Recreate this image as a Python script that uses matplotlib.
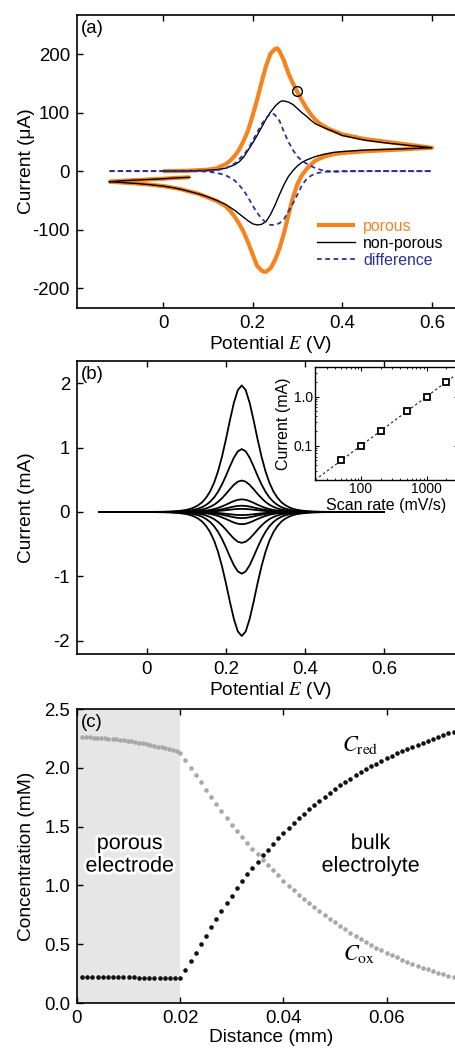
import matplotlib
matplotlib.use("Agg")
import matplotlib.pyplot as plt
from matplotlib import patheffects as pe
from matplotlib.ticker import LogLocator, NullFormatter

plt.rcParams['font.family'] = ['Liberation Sans', 'DejaVu Sans']
plt.rcParams['mathtext.fontset'] = 'stix'
plt.rcParams['axes.unicode_minus'] = False

# ---------------- Panel (a) data: cyclic voltammograms (uA vs V) ----------------
np_fwd_E = [0.00, 0.05, 0.10, 0.12, 0.14, 0.16, 0.17, 0.18, 0.19, 0.20, 0.21, 0.22, 0.23, 0.24, 0.25, 0.26,
            0.265, 0.27, 0.28, 0.29, 0.30, 0.31, 0.32, 0.33, 0.34, 0.36, 0.38, 0.40, 0.45, 0.50, 0.55, 0.60]
np_fwd_I = [0, 0.3, 1.5, 2.5, 5, 11, 16, 24, 36, 48, 61, 75, 89, 101, 111, 118,
            120, 120, 118, 114, 107, 100, 94, 87, 81, 74, 68, 61, 53, 48, 44, 40]
np_rev_E = [0.60, 0.53, 0.45, 0.40, 0.38, 0.36, 0.34, 0.32, 0.31, 0.30, 0.29, 0.28, 0.27, 0.26, 0.25, 0.24,
            0.23, 0.22, 0.21, 0.20, 0.19, 0.18, 0.17, 0.16, 0.15, 0.14, 0.12, 0.10, 0.08, 0.06, 0.04, 0.02,
            0.00, -0.03, -0.06, -0.09, -0.12]
np_rev_I = [40, 38, 36, 33.5, 32, 29, 25, 19, 15, 9, 1, -9, -23, -40, -58, -74,
            -86, -91, -92, -90, -85, -79, -73, -67, -62, -57, -50, -44, -39, -35, -31, -28,
            -25.5, -23, -21, -19.5, -18]
np_end_E = [-0.12, -0.08, -0.04, 0.00, 0.03, 0.06]
np_end_I = [-18, -16, -14.5, -13, -11.5, -10.5]

p_fwd_E = [0.00, 0.05, 0.10, 0.12, 0.14, 0.15, 0.16, 0.17, 0.18, 0.19, 0.20, 0.21, 0.22, 0.23, 0.24, 0.25,
           0.255, 0.26, 0.27, 0.28, 0.29, 0.30, 0.31, 0.32, 0.33, 0.34, 0.35, 0.37, 0.40, 0.45, 0.50, 0.55, 0.60]
p_fwd_I = [0, 0.5, 2.5, 5, 12, 18, 26, 37, 52, 70, 95, 122, 152, 180, 201, 209,
           210, 205, 189, 167, 150, 135, 121, 108, 97, 88, 81, 72, 63, 55, 50, 45, 40]
p_rev_E = [0.60, 0.53, 0.45, 0.40, 0.38, 0.36, 0.34, 0.33, 0.32, 0.31, 0.30, 0.29, 0.28, 0.27, 0.26, 0.25,
           0.24, 0.23, 0.225, 0.22, 0.21, 0.20, 0.19, 0.18, 0.17, 0.16, 0.15, 0.14, 0.12, 0.10, 0.08, 0.06,
           0.04, 0.02, 0.00, -0.03, -0.06, -0.09, -0.12]
p_rev_I = [40, 37, 34, 31, 29, 25, 18, 11, 3, -7, -22, -45, -75, -106, -132, -152,
           -166, -172, -172, -170, -162, -142, -122, -104, -90, -78, -68, -60, -51, -45, -39, -35,
           -31, -28, -25.5, -23, -21, -19.5, -18]
p_end_E = [-0.12, -0.08, -0.04, 0.00, 0.03, 0.06]
p_end_I = [-18, -16, -14.5, -13, -11.5, -10.5]

d_fwd_E = [-0.12, 0.08, 0.10, 0.12, 0.14, 0.16, 0.18, 0.19, 0.20, 0.21, 0.22, 0.23, 0.24, 0.245,
           0.25, 0.26, 0.27, 0.28, 0.29, 0.30, 0.31, 0.32, 0.34, 0.36, 0.38, 0.40, 0.45, 0.60]
d_fwd_I = [0, 0, 0.5, 1.5, 5, 13, 28, 38, 52, 66, 80, 91, 98, 98.5,
           96, 86, 67, 50, 36, 25, 18, 13, 5, 0.5, -1, -0.5, 0, 0]
d_rev_E = [0.60, 0.40, 0.36, 0.34, 0.33, 0.32, 0.31, 0.30, 0.29, 0.28, 0.27, 0.26, 0.25, 0.24,
           0.23, 0.22, 0.21, 0.20, 0.19, 0.18, 0.17, 0.16, 0.14, 0.12, 0.10, 0.08, -0.12]
d_rev_I = [0, 0, -1, -4, -8, -14, -24, -40, -55, -69, -82, -89, -92, -92,
           -88, -81, -71, -59, -45, -33, -24, -16, -7, -3, -1, 0, 0]

marker_E = [0.30]
marker_I = [137]

legend_labels = ['porous', 'non-porous', 'difference']

# ---------------- Panel (b) data: thin-layer CVs at several scan rates ----------------
E_b = [-0.12, 0.00, 0.04, 0.06, 0.08, 0.10, 0.11, 0.12, 0.13, 0.14, 0.15, 0.16, 0.17, 0.18, 0.19, 0.20,
       0.21, 0.22, 0.23, 0.24, 0.25, 0.26, 0.27, 0.28, 0.29, 0.30, 0.31, 0.32, 0.33, 0.34, 0.35, 0.36,
       0.37, 0.38, 0.40, 0.42, 0.44, 0.48, 0.60]
shape_b = [0, 0.0004, 0.0017, 0.0036, 0.0079, 0.017, 0.025, 0.037, 0.054, 0.078, 0.114, 0.163, 0.231,
           0.322, 0.438, 0.575, 0.724, 0.862, 0.963, 1.0, 0.963, 0.862, 0.724, 0.575, 0.438, 0.322,
           0.231, 0.163, 0.114, 0.078, 0.054, 0.037, 0.025, 0.017, 0.0079, 0.0036, 0.0017, 0.0004, 0]
peak_ox_mA = [1.97, 0.98, 0.49, 0.197, 0.098, 0.049]
peak_red_mA = [1.93, 0.96, 0.48, 0.19, 0.095, 0.048]

# inset
scan_rate = [50, 100, 200, 500, 1000, 2000]
peak_current = [0.05, 0.1, 0.2, 0.5, 1.0, 2.0]
fit_rate = [20, 3000]
fit_current = [0.02, 3.0]

# ---------------- Panel (c) data: concentration profiles ----------------
x_red = [0.001, 0.002, 0.003, 0.004, 0.005, 0.006, 0.007, 0.008, 0.009, 0.010,
         0.011, 0.012, 0.013, 0.014, 0.015, 0.016, 0.017, 0.018, 0.019, 0.020,
         0.021, 0.022, 0.023, 0.024, 0.025, 0.026, 0.027, 0.028, 0.029, 0.030,
         0.031, 0.032, 0.033, 0.034, 0.035, 0.036, 0.037, 0.038, 0.039, 0.040,
         0.041, 0.042, 0.043, 0.044, 0.045, 0.046, 0.047, 0.048, 0.049, 0.050,
         0.051, 0.052, 0.053, 0.054, 0.055, 0.056, 0.057, 0.058, 0.059, 0.060,
         0.061, 0.062, 0.063, 0.064, 0.065, 0.066, 0.067, 0.068, 0.069, 0.070,
         0.071, 0.072, 0.073]
c_red = [0.221, 0.221, 0.221, 0.220, 0.220, 0.220, 0.219, 0.219, 0.218, 0.218,
         0.217, 0.216, 0.216, 0.215, 0.214, 0.213, 0.212, 0.211, 0.210, 0.209,
         0.283, 0.355, 0.428, 0.500, 0.572, 0.643, 0.714, 0.783, 0.850, 0.914,
         0.976, 1.035, 1.093, 1.149, 1.203, 1.255, 1.305, 1.354, 1.401, 1.446,
         1.490, 1.532, 1.572, 1.611, 1.649, 1.686, 1.721, 1.755, 1.788, 1.820,
         1.850, 1.880, 1.908, 1.935, 1.962, 1.987, 2.012, 2.036, 2.059, 2.081,
         2.102, 2.123, 2.143, 2.162, 2.180, 2.198, 2.215, 2.232, 2.248, 2.263,
         2.278, 2.292, 2.306]
x_ox = [0.0010, 0.0017, 0.0025, 0.0032, 0.0039, 0.0047, 0.0054, 0.0061, 0.0069, 0.0076,
        0.0083, 0.0091, 0.0098, 0.0105, 0.0113, 0.0120, 0.0127, 0.0135, 0.0142, 0.0149,
        0.0157, 0.0164, 0.0171, 0.0179, 0.0186, 0.0193, 0.0200,
        0.021, 0.022, 0.023, 0.024, 0.025, 0.026, 0.027, 0.028, 0.029, 0.030,
        0.031, 0.032, 0.033, 0.034, 0.035, 0.036, 0.037, 0.038, 0.039, 0.040,
        0.041, 0.042, 0.043, 0.044, 0.045, 0.046, 0.047, 0.048, 0.049, 0.050,
        0.051, 0.052, 0.053, 0.054, 0.055, 0.056, 0.057, 0.058, 0.059, 0.060,
        0.061, 0.062, 0.063, 0.064, 0.065, 0.066, 0.067, 0.068, 0.069, 0.070,
        0.071, 0.072, 0.073]
c_ox = [2.260, 2.259, 2.258, 2.257, 2.255, 2.253, 2.250, 2.248, 2.245, 2.241,
        2.238, 2.233, 2.229, 2.224, 2.219, 2.213, 2.208, 2.201, 2.194, 2.188,
        2.180, 2.173, 2.165, 2.156, 2.148, 2.139, 2.130,
        2.066, 2.000, 1.940, 1.877, 1.810, 1.750, 1.690, 1.633, 1.573, 1.516,
        1.460, 1.410, 1.360, 1.310, 1.265, 1.220, 1.175, 1.130, 1.085, 1.035,
        0.998, 0.958, 0.921, 0.887, 0.853, 0.816, 0.782, 0.748, 0.717, 0.686,
        0.655, 0.627, 0.598, 0.570, 0.544, 0.519, 0.493, 0.470, 0.448, 0.428,
        0.408, 0.389, 0.368, 0.351, 0.334, 0.317, 0.300, 0.287, 0.272, 0.258,
        0.244, 0.230, 0.219]
porous_span = [0.0, 0.02]

# ---------------- Figure layout ----------------
W, H = 456, 1049
fig = plt.figure(figsize=(W / 100, H / 100), dpi=100)


def add_ax(l, t, r, b):
    return fig.add_axes([l / W, 1 - b / H, (r - l) / W, (b - t) / H])


TICK_FS = 13.4
LABEL_FS = 13.8
ORANGE = '#F5841F'
NAVY = '#2E3192'


def style(ax):
    for s in ax.spines.values():
        s.set_linewidth(1.2)
    ax.tick_params(direction='in', top=True, right=True, length=4, width=1.0,
                   labelsize=TICK_FS, pad=5)


# ---- (a)
axA = add_ax(77, 15, 465, 308)
axA.plot(p_fwd_E + p_rev_E, p_fwd_I + p_rev_I, color=ORANGE, lw=3.0, solid_capstyle='butt',
         label=legend_labels[0])
axA.plot(p_end_E, p_end_I, color=ORANGE, lw=3.0, solid_capstyle='butt')
axA.plot(np_fwd_E + np_rev_E, np_fwd_I + np_rev_I, color='black', lw=1.0, label=legend_labels[1])
axA.plot(np_end_E, np_end_I, color='black', lw=1.0)
axA.plot(d_fwd_E + d_rev_E, d_fwd_I + d_rev_I, color=NAVY, lw=1.3, ls=(0, (2.6, 2.0)),
         label=legend_labels[2])
axA.plot(marker_E, marker_I, 'o', mfc='none', mec='black', ms=7, mew=1.0)
axA.set_xlim(-0.192, 0.674)
axA.set_ylim(-234, 267)
axA.set_xticks([0, 0.2, 0.4, 0.6])
axA.set_xticklabels(['0', '0.2', '0.4', '0.6'])
axA.set_yticks([-200, -100, 0, 100, 200])
axA.set_yticklabels(['-200', '-100', '0', '100', '200'])
style(axA)
axA.set_xlabel(r'Potential $E$ (V)', fontsize=LABEL_FS)
axA.set_ylabel('Current (μA)', fontsize=LABEL_FS)
axA.xaxis.set_label_coords(0.5, -0.088)
axA.yaxis.set_label_coords(-0.108, 0.5)
axA.text(0.01, 0.982, '(a)', transform=axA.transAxes, fontsize=TICK_FS, va='top', ha='left')
axA.legend(loc='upper left', bbox_to_anchor=(0.619, 0.304), frameon=False, fontsize=11.4,
           handlelength=2.4, handletextpad=0.5, labelspacing=0.12, borderpad=0, borderaxespad=0,
           labelcolor='linecolor')

# ---- (b)
axB = add_ax(77, 361, 465, 654)
for pox, pred in zip(peak_ox_mA, peak_red_mA):
    I_f = [s * pox for s in shape_b]
    I_r = [-s * pred for s in shape_b[::-1]]
    axB.plot(E_b + E_b[::-1], I_f + I_r, color='black', lw=1.3)
axB.set_xlim(-0.177, 0.805)
axB.set_ylim(-2.21, 2.35)
axB.set_xticks([0, 0.2, 0.4, 0.6])
axB.set_xticklabels(['0', '0.2', '0.4', '0.6'])
axB.set_yticks([-2, -1, 0, 1, 2])
axB.set_yticklabels(['-2', '-1', '0', '1', '2'])
style(axB)
axB.set_xlabel(r'Potential $E$ (V)', fontsize=LABEL_FS)
axB.set_ylabel('Current (mA)', fontsize=LABEL_FS)
axB.xaxis.set_label_coords(0.5, -0.088)
axB.yaxis.set_label_coords(-0.108, 0.5)
axB.text(0.01, 0.982, '(b)', transform=axB.transAxes, fontsize=TICK_FS, va='top', ha='left')

# ---- inset
axI = add_ax(315, 367, 458, 480)
axI.plot(fit_rate, fit_current, color='#333333', lw=0.9, ls=(0, (2, 2)))
axI.plot(scan_rate, peak_current, 's', ms=4.5, mfc='white', mec='black', mew=1.3)
axI.set_xscale('log')
axI.set_yscale('log')
axI.set_xlim(20, 3000)
axI.set_ylim(0.02, 4)
axI.set_xticks([100, 1000])
axI.set_xticklabels(['100', '1000'])
axI.set_yticks([0.1, 1.0])
axI.set_yticklabels(['0.1', '1.0'])
axI.xaxis.set_minor_locator(LogLocator(base=10, subs=range(2, 10)))
axI.yaxis.set_minor_locator(LogLocator(base=10, subs=range(2, 10)))
axI.xaxis.set_minor_formatter(NullFormatter())
axI.yaxis.set_minor_formatter(NullFormatter())
for s in axI.spines.values():
    s.set_linewidth(1.0)
axI.tick_params(which='major', direction='in', top=True, right=True, length=3, width=0.8,
                labelsize=10, pad=1.5)
axI.tick_params(which='minor', direction='in', top=True, right=True, length=1.6, width=0.6)
axI.set_xlabel('Scan rate (mV/s)', fontsize=11.5)
axI.set_ylabel('Current (mA)', fontsize=11.5)
axI.xaxis.set_label_coords(0.5, -0.16)
axI.yaxis.set_label_coords(-0.17, 0.5)

# ---- (c)
axC = add_ax(77, 709, 465, 1003)
axC.axvspan(porous_span[0], porous_span[1], color='#e6e6e6', lw=0, zorder=0)
axC.plot(x_ox, c_ox, 'o', color='#a8a8a8', ms=3.3, mew=0, zorder=2)
axC.plot(x_red, c_red, 'o', color='#111111', ms=3.3, mew=0, zorder=3)
axC.set_xlim(0, 0.0752)
axC.set_ylim(0, 2.5)
axC.set_xticks([0, 0.02, 0.04, 0.06])
axC.set_xticklabels(['0', '0.02', '0.04', '0.06'])
axC.set_yticks([0, 0.5, 1.0, 1.5, 2.0, 2.5])
axC.set_yticklabels(['0.0', '0.5', '1.0', '1.5', '2.0', '2.5'])
style(axC)
axC.set_xlabel('Distance (mm)', fontsize=LABEL_FS)
axC.set_ylabel('Concentration (mM)', fontsize=LABEL_FS)
axC.xaxis.set_label_coords(0.5, -0.088)
axC.yaxis.set_label_coords(-0.108, 0.5)
axC.text(0.01, 0.982, '(c)', transform=axC.transAxes, fontsize=TICK_FS, va='top', ha='left')
halo = [pe.withStroke(linewidth=4, foreground='white')]
axC.text(0.0102, 1.26, 'porous\nelectrode', fontsize=15.5, ha='center', va='center',
         linespacing=1.1, path_effects=halo, zorder=4)
axC.text(0.0569, 1.26, 'bulk\nelectrolyte', fontsize=15.5, ha='center', va='center',
         linespacing=1.1, path_effects=halo, zorder=4)
axC.text(0.0513, 2.19, r'$C_{\rm red}$', fontsize=16, ha='left', va='center', zorder=4)
axC.text(0.0515, 0.42, r'$C_{\rm ox}$', fontsize=16, ha='left', va='center', zorder=4)

fig.savefig('out.png', dpi=100)
